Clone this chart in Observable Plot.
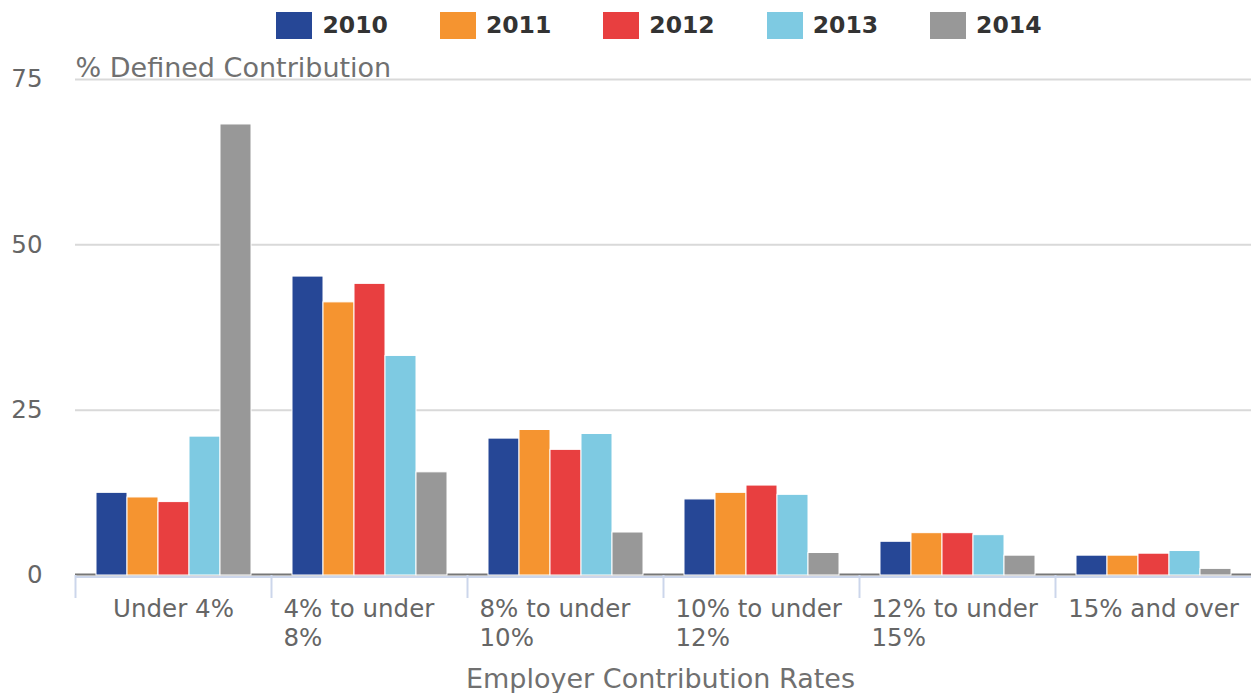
<!DOCTYPE html>
<html><head><meta charset="utf-8">
<script src="https://cdn.jsdelivr.net/npm/d3@7"></script>
<script src="https://cdn.jsdelivr.net/npm/@observablehq/plot@0.6"></script>
<style>
body{margin:0;background:#fff;font-family:"DejaVu Sans";}
#legend{height:48px;display:flex;justify-content:center;align-items:flex-start;padding-left:67px;box-sizing:border-box;}
.item{display:flex;align-items:center;margin:0 26px;padding-top:12px;}
.sw{width:36px;height:27px;box-sizing:border-box;margin-right:10px;}
.lab{font-weight:bold;font-size:23.5px;color:#333;line-height:27px;font-family:"DejaVu Sans";}
</style></head><body>
<div id="legend"></div><div id="chart"></div>
<script>
const categories = ["Under 4%","4% to under 8%","8% to under 10%","10% to under 12%","12% to under 15%","15% and over"];
const years = ["2010","2011","2012","2013","2014"];
const v2010 = [12.5, 45.2, 20.7, 11.5, 5.1, 3.0];
const v2011 = [11.8, 41.3, 22.0, 12.5, 6.4, 3.0];
const v2012 = [11.1, 44.1, 19.0, 13.6, 6.4, 3.3];
const v2013 = [21.0, 33.2, 21.4, 12.2, 6.1, 3.7];
const v2014 = [68.2, 15.6, 6.5, 3.4, 3.0, 1.0];
const colors = ["#264796", "#f59430", "#e83f40", "#7ecae2", "#989898"];
const yTicks = [0, 25, 50, 75];
const yTitle = "% Defined Contribution";
const xTitle = "Employer Contribution Rates";

const series = {"2010": v2010, "2011": v2011, "2012": v2012, "2013": v2013, "2014": v2014};
const rows = years.flatMap(y => categories.map((c, i) => ({category: c, year: y, value: series[y][i]})));

// legend
const legend = d3.select("#legend");
years.forEach((y, i) => {
  const it = legend.append("div").attr("class", "item");
  it.append("div").attr("class", "sw").style("background", colors[i]);
  it.append("div").attr("class", "lab").text(y);
});

const W = 172;
const ctx = document.createElement("canvas").getContext("2d");
ctx.font = "24.5px 'DejaVu Sans'";
function wrap(s) {
  const words = s.split(" "); const lines = []; let cur = "";
  for (const w of words) {
    const t = cur ? cur + " " + w : w;
    if (cur && ctx.measureText(t).width > W) { lines.push(cur); cur = w; } else cur = t;
  }
  lines.push(cur);
  return lines.join("\n");
}

const width = 1251, height = 645, marginLeft = 75, marginRight = 0, marginTop = 31, marginBottom = 118;
const fxBand = (width - marginLeft - marginRight) / categories.length;

const chart = Plot.plot({
  width, height, marginLeft, marginRight, marginTop, marginBottom,
  style: {fontFamily: "'DejaVu Sans'", fontSize: "24.5px", background: "#fff"},
  fx: {domain: categories, padding: 0},
  x: {type: "band", domain: years, paddingInner: 0, paddingOuter: 0.64, axis: null},
  y: {domain: [0, 75], axis: null},
  color: {domain: years, range: colors},
  marks: [
    Plot.gridY(yTicks.filter(d => d > 0), {stroke: "#d9d9d9", strokeOpacity: 1, strokeWidth: 2}),
    Plot.ruleY([0], {stroke: "#777777", strokeWidth: 2, dy: -1}),
    Plot.barY(rows, {fx: "category", x: "year", y: "value", fill: "year", stroke: "white", strokeWidth: 1}),
    Plot.ruleY([0], {stroke: "#ccd6eb", strokeWidth: 2, dy: 1.5}),
    Plot.axisFx({anchor: "bottom", tickSize: 23, dx: -fxBand / 2, tickFormat: () => "", stroke: "#ccd6eb", strokeWidth: 2, label: null}),
    Plot.axisFx({anchor: "bottom", tickSize: 0, tickPadding: 21, tickFormat: wrap, fontSize: 24.5, fill: "#666", lineHeight: 1.18, label: null}),
    Plot.axisY(yTicks, {anchor: "left", tickSize: 0, tickPadding: 33, fontSize: 24.5, fill: "#666", label: null}),
    Plot.text([yTitle], {fx: () => categories[0], text: d => d, frameAnchor: "top-left", textAnchor: "start", lineAnchor: "middle", dy: -10.8, fontSize: 27, fill: "#707070"}),
    Plot.text([xTitle], {fx: () => categories[2], text: d => d, frameAnchor: "bottom-right", textAnchor: "middle", lineAnchor: "middle", dx: -3, dy: 103.5, fontSize: 27, fill: "#707070"})
  ]
});

document.getElementById("chart").appendChild(chart);

d3.select(chart).selectAll('g[aria-label="fx-axis tick label"] text').each(function() {
  const tsp = d3.select(this).selectAll("tspan");
  if (tsp.size() > 1) {
    d3.select(this).attr("text-anchor", "start");
    tsp.attr("x", -W / 2);
  }
});
</script>
</body></html>
